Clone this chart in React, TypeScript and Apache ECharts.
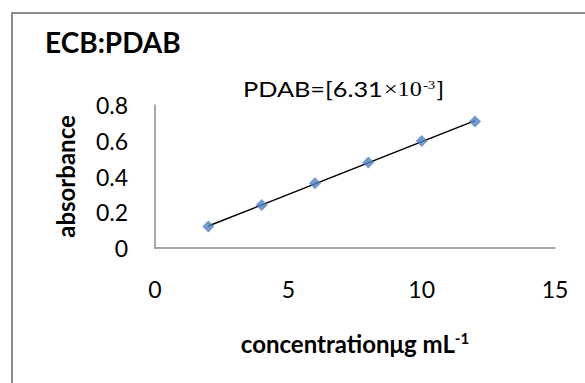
import React, { useEffect, useRef } from "react";
import * as echarts from "echarts";

const titleText = "ECB:PDAB";
const xValues = [2, 4, 6, 8, 10, 12];
const yValues = [0.12, 0.24, 0.362, 0.479, 0.599, 0.707];
const xTicks = { min: 0, max: 15, interval: 5 };
const yTicks = { min: 0, max: 0.8, interval: 0.2 };

function fit(xs: number[], ys: number[]) {
  const n = xs.length;
  const mx = xs.reduce((a, b) => a + b, 0) / n;
  const my = ys.reduce((a, b) => a + b, 0) / n;
  let sxy = 0, sxx = 0;
  for (let i = 0; i < n; i++) {
    sxy += (xs[i] - mx) * (ys[i] - my);
    sxx += (xs[i] - mx) ** 2;
  }
  const b = sxy / sxx;
  return { a: my - b * mx, b };
}

export default function App() {
  const ref = useRef<HTMLDivElement>(null);
  useEffect(() => {
    document.body.style.margin = "0";
    const chart = echarts.init(ref.current!, null, { renderer: "svg" });
    const { a, b } = fit(xValues, yValues);
    const x0 = xValues[0];
    const x1 = xValues[xValues.length - 1];
    const font = "Lato";
    chart.setOption({
      animation: false,
      backgroundColor: "#fff",
      textStyle: { fontFamily: font },
      title: {
        text: titleText,
        left: 40,
        top: 23,
        textStyle: { fontFamily: font, fontWeight: "bold", fontSize: 28, color: "#000" },
      },
      graphic: [
        {
          type: "rect",
          shape: { x: 12, y: 13, width: 700, height: 500 },
          style: { fill: "none", stroke: "#8c8c8c", lineWidth: 2 },
          z: -1,
        },
        {
          type: "text",
          x: 243,
          y: 78,
          scaleX: 1.15,
          style: {
            x: 0,
            y: 0,
            verticalAlign: "top",
            text: "{a|PDAB=[6.31}{b|×10}{s|-3}{a|]}",
            rich: {
              a: { fontFamily: font, fontSize: 22, fill: "#000", verticalAlign: "bottom" },
              b: { fontFamily: "Liberation Serif", fontSize: 21, fill: "#000", verticalAlign: "bottom", padding: [0, 1, 0, 1] },
              s: { fontFamily: "Liberation Serif", fontSize: 13, fill: "#000", verticalAlign: "top", padding: [0, 1, 9, 0] },
            },
          },
        },
      ],
      grid: { left: 155, top: 105, right: 30, bottom: 135 },
      xAxis: {
        type: "value",
        min: xTicks.min,
        max: xTicks.max,
        interval: xTicks.interval,
        axisLine: { lineStyle: { color: "#8c8c8c", width: 1.5 } },
        axisTick: { show: false },
        splitLine: { show: false },
        axisLabel: { margin: 29, fontSize: 23, color: "#000", fontFamily: font },
        name: "{n|concentrationμg mL}{s|-1}",
        nameLocation: "middle",
        nameGap: 82,
        nameTextStyle: {
          rich: {
            n: { fontFamily: font, fontWeight: "bold", fontSize: 24, color: "#000" },
            s: { fontFamily: font, fontWeight: "bold", fontSize: 15, color: "#000", padding: [0, 0, 11, 0] },
          },
        },
      },
      yAxis: {
        type: "value",
        min: yTicks.min,
        max: yTicks.max,
        interval: yTicks.interval,
        axisLine: { show: true, lineStyle: { color: "#8c8c8c", width: 1.5 } },
        axisTick: { show: false },
        splitLine: { show: false },
        axisLabel: { margin: 27, fontSize: 23, color: "#000", fontFamily: font },
        name: "absorbance",
        nameLocation: "middle",
        nameGap: 78,
        nameTextStyle: { fontFamily: font, fontWeight: "bold", fontSize: 24, color: "#000" },
      },
      series: [
        {
          type: "line",
          data: [
            [x0, a + b * x0],
            [x1, a + b * x1],
          ],
          symbol: "none",
          lineStyle: { color: "#000", width: 1.5 },
          z: 2,
        },
        {
          type: "scatter",
          data: xValues.map((x, i) => [x, yValues[i]]),
          symbol: "diamond",
          symbolSize: 12,
          itemStyle: { color: "#4F81BD" },
          z: 3,
        },
      ],
    });
    return () => chart.dispose();
  }, []);
  return <div ref={ref} style={{ width: 585, height: 383 }} />;
}
